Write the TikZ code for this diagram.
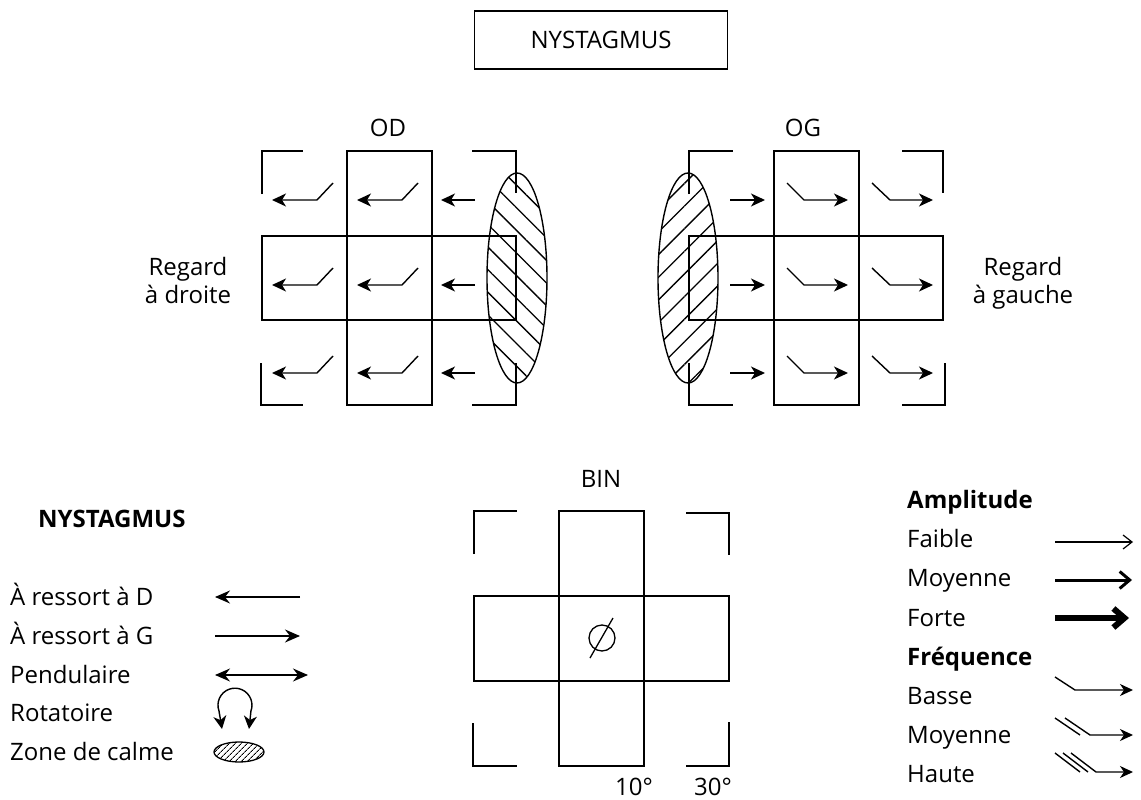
\documentclass[tikz,border=0pt]{standalone}
\usepackage{fontspec}
\setmainfont{Open Sans}
\usepackage{tikz}
\usetikzlibrary{arrows.meta,patterns.meta}

\tikzset{
  txt/.style={inner sep=0pt, font=\fontsize{24}{28}\selectfont},
  boldtxt/.style={inner sep=0pt, font=\fontsize{24}{28}\selectfont\bfseries},
  grid/.style={line width=1.4pt},
  nyst/.style={line width=1.4pt, -{Stealth[length=14pt,width=13pt,inset=4pt]}},
  legarrow/.style={line width=1.4pt, -{Stealth[length=15pt,width=13pt,inset=5pt]}},
  freqarrow/.style={line width=1.4pt, -{Stealth[length=13pt,width=12pt,inset=4pt]}},
}

\begin{document}
\begin{tikzpicture}[x=1pt,y=-1pt]
\useasboundingbox (0,0) rectangle (1141,800);

% titre
\node[txt, draw, line width=1.4pt, minimum width=253pt, minimum height=58pt] (title) at (601,40) {NYSTAGMUS};

% OD
\node[txt, anchor=base] (od) at (388,136) {OD};
\node[txt, anchor=base, align=center] (regardD) at (188,303) {Regard\\à droite};
\draw[grid] (262,236) rectangle (516,320);
\draw[grid] (347,151) rectangle (432,405);
\draw[grid] (262,194) -- (262,151) -- (303,151);
\draw[grid] (472,151) -- (516,151) -- (516,193);
\draw[grid] (261,363) -- (261,405) -- (303,405);
\draw[grid] (472,405) -- (516,405) -- (516,363);
\draw[grid, pattern={Lines[angle=-45,distance=16pt,line width=1.3pt]}] (517,278) ellipse [x radius=30, y radius=105];
\foreach \y in {200,285,373} {
  \draw[nyst] (333,\y-17) -- (317,\y) -- (272,\y);
  \draw[nyst] (418,\y-17) -- (402,\y) -- (357,\y);
  \draw[nyst] (475,\y) -- (441,\y);
}

% OG
\node[txt, anchor=base] (og) at (803,136) {OG};
\node[txt, anchor=base, align=center] (regardG) at (1023,303) {Regard\\à gauche};
\draw[grid] (689,236) rectangle (943,320);
\draw[grid] (774,151) rectangle (859,405);
\draw[grid] (689,194) -- (689,151) -- (733,151);
\draw[grid] (902,151) -- (943,151) -- (943,193);
\draw[grid] (689,363) -- (689,405) -- (733,405);
\draw[grid] (902,405) -- (945,405) -- (945,363);
\draw[grid, pattern={Lines[angle=45,distance=16pt,line width=1.3pt]}] (688,278) ellipse [x radius=30, y radius=105];
\foreach \y in {200,285,373} {
  \draw[nyst] (730,\y) -- (765,\y);
  \draw[nyst] (787,\y-17) -- (804,\y) -- (848,\y);
  \draw[nyst] (872,\y-17) -- (890,\y) -- (933,\y);
}

% BIN
\node[txt, anchor=base] (bin) at (601,487) {BIN};
\draw[grid] (474,596) rectangle (729,681);
\draw[grid] (559,511) rectangle (644,766);
\draw[grid] (474,554) -- (474,511) -- (517,511);
\draw[grid] (686,513) -- (729,513) -- (729,555);
\draw[grid] (473,723) -- (473,766) -- (517,766);
\draw[grid] (686,766) -- (729,766) -- (729,722);
\draw[line width=1.3pt] (602,638) circle [radius=13];
\draw[line width=1.3pt] (590,658) -- (613,618);
\node[txt, anchor=base] (deg10) at (634,795) {10°};
\node[txt, anchor=base] (deg30) at (713,795) {30°};

% legende nystagmus
\node[boldtxt, anchor=base west] (legN) at (38,527) {NYSTAGMUS};
\node[txt, anchor=base west] (ressD) at (10,605) {À ressort à D};
\node[txt, anchor=base west] (ressG) at (10,644) {À ressort à G};
\node[txt, anchor=base west] (pend) at (10,683) {Pendulaire};
\node[txt, anchor=base west] (rot) at (10,721) {Rotatoire};
\node[txt, anchor=base west] (calme) at (10,760) {Zone de calme};
\draw[legarrow] (300,597) -- (215,597);
\draw[legarrow] (215,636) -- (300,636);
\draw[line width=1.4pt, {Stealth[length=15pt,width=13pt,inset=5pt]}-{Stealth[length=15pt,width=13pt,inset=5pt]}] (215,675) -- (308,675);
\draw[line width=1.4pt, {Stealth[length=13pt,width=13pt,inset=4pt]}-{Stealth[length=13pt,width=13pt,inset=4pt]}] (222,729) -- (219,711) arc [start angle=160, end angle=380, radius=17] -- (249,729);
\draw[line width=1.3pt, pattern={Lines[angle=45,distance=4pt,line width=1pt]}] (239,752) ellipse [x radius=25, y radius=10];

% legende amplitude / frequence
\node[boldtxt, anchor=base west] (amp) at (907,508) {Amplitude};
\node[txt, anchor=base west] (faible) at (907,547) {Faible};
\node[txt, anchor=base west] (moyA) at (907,586) {Moyenne};
\node[txt, anchor=base west] (forte) at (907,626) {Forte};
\node[boldtxt, anchor=base west] (freq) at (907,665) {Fréquence};
\node[txt, anchor=base west] (basse) at (907,704) {Basse};
\node[txt, anchor=base west] (moyF) at (907,743) {Moyenne};
\node[txt, anchor=base west] (haute) at (907,782) {Haute};
\draw[line width=1.2pt, -{Straight Barb[length=9pt,width=14pt]}] (1055,542) -- (1133,542);
\draw[line width=3pt, -{Straight Barb[length=10pt,width=17pt]}] (1055,580) -- (1132,580);
\draw[line width=6pt, -{Straight Barb[length=11pt,width=19pt]}] (1055,618) -- (1129,618);
\draw[freqarrow] (1055,677) -- (1075,690) -- (1133,690);
\draw[line width=1.4pt] (1055,718) -- (1080,735);
\draw[freqarrow] (1065,718) -- (1090,735) -- (1133,735);
\draw[line width=1.4pt] (1055,753) -- (1080,772);
\draw[line width=1.4pt] (1063,753) -- (1088,772);
\draw[freqarrow] (1071,753) -- (1096,772) -- (1133,772);
\end{tikzpicture}
\end{document}
